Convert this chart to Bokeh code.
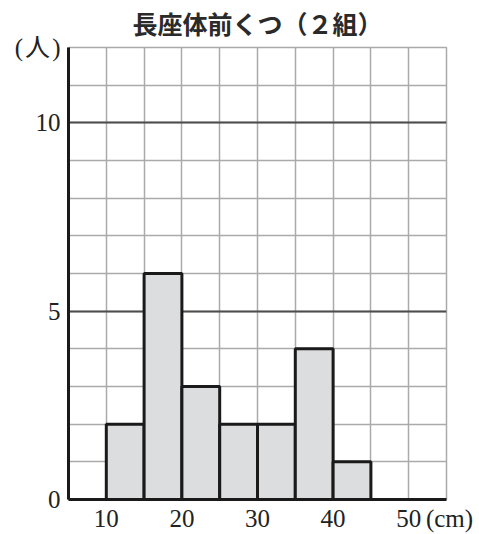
from bokeh.plotting import figure
from bokeh.models import Range1d, FixedTicker, Grid
from bokeh.embed import file_html
from bokeh.resources import INLINE

# Data
bin_left = [10, 15, 20, 25, 30, 35, 40]
bin_right = [15, 20, 25, 30, 35, 40, 45]
counts = [2, 6, 3, 2, 2, 4, 1]
x_ticks = [10, 20, 30, 40, 50]
y_ticks = [0, 5, 10]
title_text = "長座体前くつ（２組）"
y_unit = "(\u200a人\u200a)"
x_unit = "\u00a0(cm)"
x_unit_pos = 54.99
y_unit_pos = 12.0

SERIF = "Liberation Serif"
CJK = "Noto Sans CJK JP"

p = figure(width=479, height=534, output_backend="svg", toolbar_location=None,
           x_range=Range1d(5, 55), y_range=Range1d(0, 12),
           min_border_left=68, min_border_right=33, min_border_top=47, min_border_bottom=34)

p.title.text = title_text
p.title.align = "center"
p.title.text_font = CJK
p.title.text_font_size = "25px"
p.title.text_font_style = "bold"
p.title.text_color = "#2a2a2a"
p.title.vertical_align = "top"
p.title.standoff = 9

p.background_fill_color = "white"
p.border_fill_color = "white"
p.outline_line_color = "#aaaaaa"
p.outline_line_width = 1.5

# grids
p.xgrid.ticker = FixedTicker(ticks=[5, 10, 15, 20, 25, 30, 35, 40, 45, 50, 55])
p.xgrid.grid_line_color = "#aaaaaa"
p.xgrid.grid_line_width = 1.5
p.ygrid.ticker = FixedTicker(ticks=list(range(0, 13)))
p.ygrid.grid_line_color = "#aaaaaa"
p.ygrid.grid_line_width = 1.5
p.add_layout(Grid(dimension=1, ticker=FixedTicker(ticks=[5, 10]),
                  grid_line_color="#4d4d4d", grid_line_width=1.8))

# axes
for ax in (p.xaxis[0], p.yaxis[0]):
    ax.axis_line_color = "#1a1a1a"
    ax.axis_line_width = 3
    ax.major_tick_line_color = None
    ax.minor_tick_line_color = None
    ax.major_tick_out = 0
    ax.major_tick_in = 0
    ax.minor_tick_out = 0
    ax.minor_tick_in = 0
    ax.major_label_text_font = SERIF + ", " + CJK
    ax.major_label_text_font_size = "25px"
    ax.major_label_text_color = "#222222"
p.xaxis.ticker = FixedTicker(ticks=x_ticks + [x_unit_pos])
p.xaxis.major_label_overrides = {x_unit_pos: x_unit}
p.yaxis.ticker = FixedTicker(ticks=y_ticks + [y_unit_pos])
p.yaxis.major_label_overrides = {y_unit_pos: y_unit}
p.xaxis.major_label_standoff = 5
p.yaxis.major_label_standoff = 8

# bars
p.quad(left=bin_left, right=bin_right, top=counts, bottom=0,
       fill_color="#dcdddf", line_color="#1a1a1a", line_width=3)

open("out.html", "w").write(file_html(p, INLINE))
